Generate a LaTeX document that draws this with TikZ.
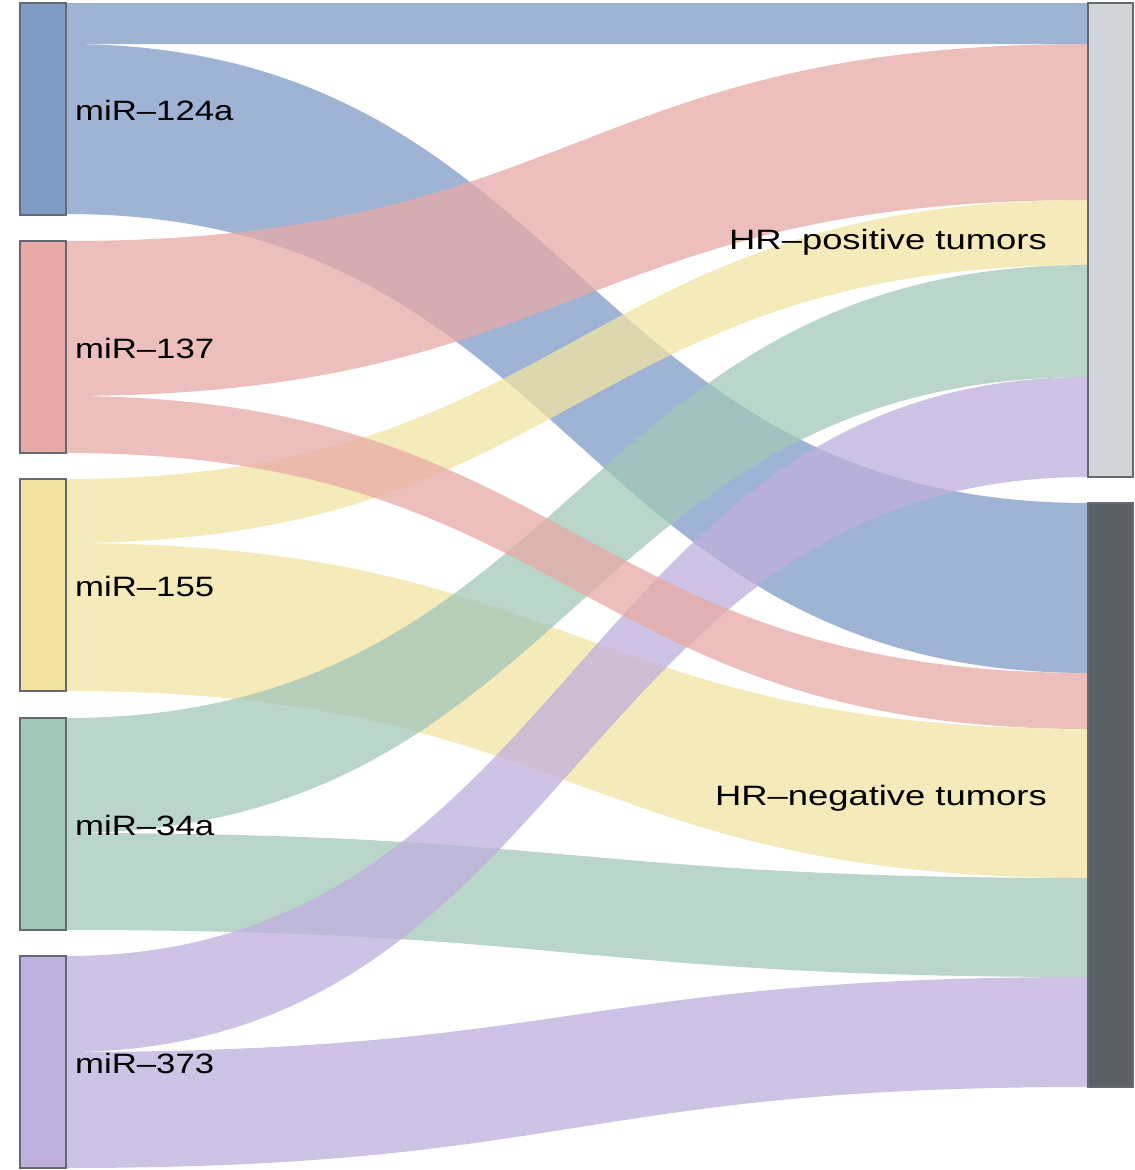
\documentclass[tikz,border=0pt]{standalone}
\usepackage{fontspec}
\setmainfont{Liberation Sans}
\usetikzlibrary{calc}
\definecolor{cblue}{HTML}{7F9BC6}
\definecolor{cpink}{HTML}{E8AAA6}
\definecolor{cyellow}{HTML}{F2E3A3}
\definecolor{cgreen}{HTML}{A3C7B9}
\definecolor{cpurple}{HTML}{C0B0DD}
\definecolor{cpos}{HTML}{D1D5DA}
\definecolor{cneg}{HTML}{5B6067}
\definecolor{cborder}{HTML}{646870}
\pgfdeclarelayer{bg}
\pgfsetlayers{bg,main}
\newcommand\band[7]{%
  \coordinate (s1) at ($(#1.north east)+(0,#2)$);
  \coordinate (s2) at ($(#1.north east)+(0,#3)$);
  \coordinate (d1) at ($(#4.north west)+(0,#5)$);
  \coordinate (d2) at ($(#4.north west)+(0,#6)$);
  \fill[flowband, #7] (s1) .. controls (s1 -| mid) and (d1 -| mid) .. (d1)
     -- (d2) .. controls (d2 -| mid) and (s2 -| mid) .. (s2) -- cycle;
}
\begin{document}
\begin{tikzpicture}[x=1pt,y=-1pt,
  srcbox/.style={draw=cborder, line width=1.3pt, minimum width=46pt, minimum height=212pt,
     inner sep=0pt, outer sep=0pt, anchor=north west},
  dstbox/.style={draw=cborder, line width=1.3pt, minimum width=45pt,
     inner sep=0pt, outer sep=0pt, anchor=north west},
  flowband/.style={fill opacity=0.75},
  lbl/.style={font=\fontsize{28}{32}\selectfont, inner sep=0pt, text=black}]
\useasboundingbox (0,0) rectangle (1135,1170);
\coordinate (mid) at (577,0);
% nodes
\node[srcbox, fill=cblue]   (m124) at (20,3)   {};
\node[srcbox, fill=cpink]   (m137) at (20,241) {};
\node[srcbox, fill=cyellow] (m155) at (20,479) {};
\node[srcbox, fill=cgreen]  (m34)  at (20,718) {};
\node[srcbox, fill=cpurple] (m373) at (20,956) {};
\node[dstbox, fill=cpos, minimum height=474pt] (pos) at (1088,3) {};
\node[dstbox, fill=cneg, minimum height=584pt] (neg) at (1088,503) {};
% flows
\begin{pgfonlayer}{bg}
\fill[white] (0,0) rectangle (1135,1170);
\band{m124}{0}{41}{pos}{0}{41}{fill=cblue}
\band{m124}{41}{211}{neg}{0}{170}{fill=cblue}
\band{m155}{0}{64}{pos}{197}{262}{fill=cyellow}
\band{m155}{64}{212}{neg}{226}{375}{fill=cyellow}
\band{m34}{0}{115}{pos}{262}{374}{fill=cgreen}
\band{m34}{115}{212}{neg}{375}{474}{fill=cgreen}
\band{m373}{0}{96}{pos}{374}{474}{fill=cpurple}
\band{m373}{96}{212}{neg}{474}{584}{fill=cpurple}
\band{m137}{0}{155}{pos}{41}{197}{fill=cpink}
\band{m137}{155}{212}{neg}{170}{226}{fill=cpink}
\end{pgfonlayer}
% labels
\node[lbl, anchor=base west] (t124) at (75,120)  {\scalebox{1.24}[1]{miR–124a}};
\node[lbl, anchor=base west] (t137) at (75,358)  {\scalebox{1.24}[1]{miR–137}};
\node[lbl, anchor=base west] (t155) at (75,596)  {\scalebox{1.24}[1]{miR–155}};
\node[lbl, anchor=base west] (t34)  at (75,835)  {\scalebox{1.24}[1]{miR–34a}};
\node[lbl, anchor=base west] (t373) at (75,1073) {\scalebox{1.24}[1]{miR–373}};
\node[lbl, anchor=base east] (tpos) at (1047,249) {\scalebox{1.3}[1]{HR–positive tumors}};
\node[lbl, anchor=base east] (tneg) at (1047,805) {\scalebox{1.3}[1]{HR–negative tumors}};
\end{tikzpicture}
\end{document}
